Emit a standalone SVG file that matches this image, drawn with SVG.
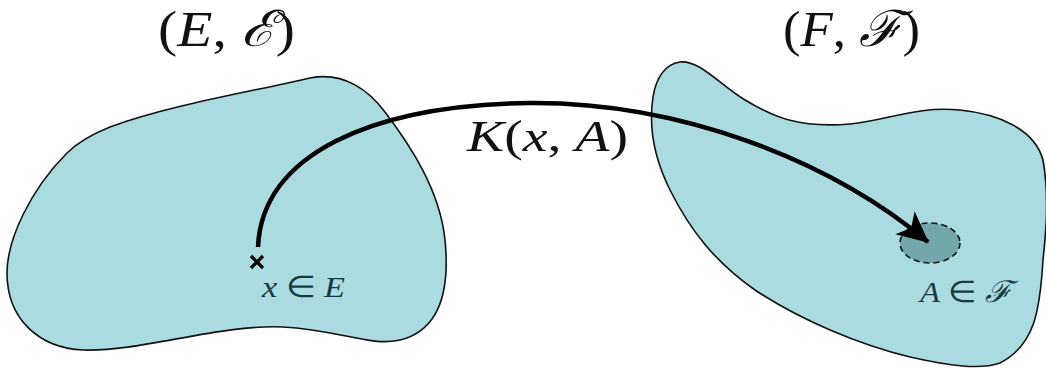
<svg xmlns="http://www.w3.org/2000/svg" width="1046" height="370" viewBox="0 0 1046 370">
<defs>
<style>
.blob{fill:#a9dbe0;stroke:#111;stroke-width:1.6}
.conn{fill:none;stroke:#000;stroke-width:4.5}
</style>
<marker id="stealth" markerUnits="userSpaceOnUse" markerWidth="40" markerHeight="34" refX="30" refY="15" orient="auto" viewBox="0 0 40 30">
<path d="M0,0 L31,15 L0,30 L8,15 Z" fill="#000"/>
</marker>
</defs>
<rect width="1046" height="370" fill="#fff"/>
<g id="setE">
<path class="blob" d="M110,127 C170,105 250,92 310,78 C345,71 370,92 385,112 C410,145 440,190 445,240 C450,290 440,330 400,340 C370,347 340,330 283,327 C220,324 140,352 83,350 C40,348 7,320 7,273 C7,240 30,190 67,153 C80,140 95,133 110,127 Z"/>
<text font-family="'Liberation Serif', serif" fill="#111" x="158" y="46" font-size="50" textLength="137" lengthAdjust="spacingAndGlyphs">(<tspan font-style="italic">E</tspan>, <tspan font-style="italic">ℰ</tspan>)</text>
</g>
<g id="setF">
<path class="blob" d="M680,62 C700,60 720,85 745,100 C775,118 800,128 850,124 C890,120 915,106 960,110 C1000,114 1035,130 1043,160 C1050,200 1045,240 1043,260 C1040,310 1035,345 1000,363 C980,370 950,366 910,357 C860,345 800,320 755,290 C715,262 690,230 670,190 C655,160 648,130 653,97 C656,78 665,64 680,62 Z"/>
<text font-family="'Liberation Serif', serif" fill="#111" x="783" y="46" font-size="50" textLength="137" lengthAdjust="spacingAndGlyphs">(<tspan font-style="italic">F</tspan>, <tspan font-style="italic">ℱ</tspan>)</text>
</g>
<g id="pointX">
<path d="M251,256 L263,268 M263,256 L251,268" stroke="#000" stroke-width="3.2"/>
<text font-family="'Liberation Serif', serif" fill="#1a3a40" x="262" y="297" font-size="30" textLength="83" lengthAdjust="spacingAndGlyphs"><tspan font-style="italic">x</tspan> ∈ <tspan font-style="italic">E</tspan></text>
</g>
<g id="setA">
<ellipse cx="930" cy="243" rx="30" ry="20" fill="#72a8ab" stroke="#111" stroke-width="1.6" stroke-dasharray="6,4"/>
<text font-family="'Liberation Serif', serif" fill="#1a3a40" x="920" y="302" font-size="30" textLength="92" lengthAdjust="spacingAndGlyphs"><tspan font-style="italic">A</tspan> ∈ <tspan font-style="italic">ℱ</tspan></text>
</g>
<g id="connectors">
<path class="conn" marker-end="url(#stealth)" d="M258,247 C262,155 370,105 530,103 C680,102 830,160 928,242"/>
<text font-family="'Liberation Serif', serif" fill="#111" x="467" y="151" font-size="44" textLength="161" lengthAdjust="spacingAndGlyphs"><tspan font-style="italic">K</tspan>(<tspan font-style="italic">x</tspan>, <tspan font-style="italic">A</tspan>)</text>
</g>
</svg>
